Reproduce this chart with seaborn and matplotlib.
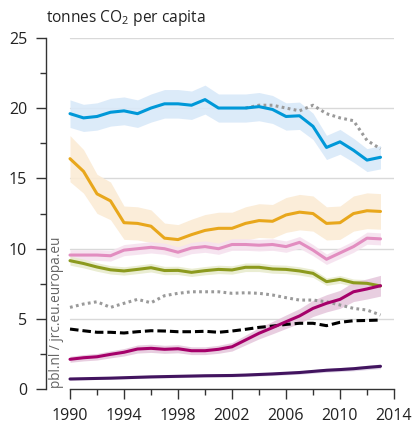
import numpy as np
import pandas as pd
import matplotlib
matplotlib.use('Agg')
import matplotlib.pyplot as plt
import seaborn as sns
from matplotlib.ticker import MultipleLocator

sns.set_style('white')
plt.rcParams['font.family'] = ['Open Sans', 'DejaVu Sans']
plt.rcParams['mathtext.default'] = 'regular'

# data
years = list(range(1990, 2014))
usa = [19.6, 19.3, 19.4, 19.7, 19.8, 19.6, 20.0, 20.3, 20.3, 20.2, 20.6, 20.0,
       20.0, 20.0, 20.1, 19.9, 19.4, 19.45, 18.7, 17.2, 17.6, 17.0, 16.3, 16.5]
russia = [16.4, 15.5, 13.9, 13.4, 11.85, 11.8, 11.6, 10.75, 10.65, 11.0, 11.3, 11.45,
          11.45, 11.8, 12.0, 11.95, 12.4, 12.6, 12.5, 11.8, 11.85, 12.5, 12.7, 12.65]
japan = [9.55, 9.55, 9.55, 9.5, 9.9, 10.0, 10.1, 10.0, 9.75, 10.05, 10.15, 10.0,
         10.3, 10.3, 10.25, 10.3, 10.15, 10.45, 9.9, 9.25, 9.7, 10.15, 10.75, 10.7]
eu28 = [9.15, 8.95, 8.7, 8.5, 8.42, 8.53, 8.65, 8.45, 8.46, 8.32, 8.44, 8.53,
        8.49, 8.68, 8.68, 8.56, 8.53, 8.42, 8.25, 7.66, 7.82, 7.58, 7.54, 7.35]
china = [2.14, 2.25, 2.32, 2.49, 2.64, 2.87, 2.92, 2.85, 2.89, 2.75, 2.75, 2.85,
         3.03, 3.51, 3.99, 4.39, 4.81, 5.22, 5.76, 6.12, 6.4, 6.94, 7.14, 7.37]
india = [0.74, 0.76, 0.78, 0.8, 0.83, 0.86, 0.89, 0.91, 0.93, 0.95, 0.97, 0.98,
         0.99, 1.02, 1.06, 1.1, 1.15, 1.2, 1.28, 1.36, 1.41, 1.47, 1.56, 1.64]
world = [4.29, 4.17, 4.06, 4.06, 4.01, 4.1, 4.17, 4.15, 4.1, 4.1, 4.13, 4.06,
         4.15, 4.27, 4.41, 4.5, 4.62, 4.7, 4.7, 4.53, 4.77, 4.88, 4.9, 4.93]
other_low = [5.83, 6.07, 6.23, 5.83, 6.12, 6.4, 6.16, 6.66, 6.83, 6.94, 6.94, 6.94,
             6.83, 6.87, 6.83, 6.71, 6.52, 6.35, 6.35, 6.23, 6.0, 5.76, 5.64, 5.29]
years_high = list(range(2003, 2014))
other_high = [20.0, 20.2, 20.2, 20.0, 19.8, 20.2, 19.6, 19.3, 19.1, 17.7, 17.1]

# relative uncertainty of the bands
unc = {'usa': 0.05, 'russia': 0.10, 'japan': 0.04, 'eu28': 0.035,
       'china': 0.10, 'india': 0.10}

fig = plt.figure(figsize=(4.14, 4.28), dpi=100)
ax = fig.add_axes([46/414, 1 - 389.4/428, (394 - 46)/414, (389.4 - 37.7)/428])

# grid lines only over the data range
for g in [5, 10, 15, 20, 25]:
    ax.plot([1990, 2014], [g, g], color='#d9d9d9', lw=1.0, zorder=0)

series = [
    ('usa', usa, '#0098d8', '#d9e9f9'),
    ('russia', russia, '#e8a71c', '#fbebd5'),
    ('japan', japan, '#e28dc0', '#f6e2ef'),
    ('eu28', eu28, '#8c9a1e', '#e8ebcd'),
    ('china', china, '#a5006a', '#e6c9dd'),
    ('india', india, '#42145f', '#dcd0e4'),
]

yr = np.array(years)
for name, vals, col, fill in series:
    v = np.array(vals)
    ax.fill_between(yr, v * (1 - unc[name]), v * (1 + unc[name]),
                    color=fill, lw=0, alpha=0.9, zorder=1)

lw = 2.2
sns.lineplot(x=years, y=other_low, color='#9a9a9a', lw=lw,
             linestyle=(0, (0.9, 1.1)), ax=ax, zorder=3)
sns.lineplot(x=years_high, y=other_high, color='#9a9a9a', lw=lw,
             linestyle=(0, (0.9, 1.1)), ax=ax, zorder=3)
sns.lineplot(x=years, y=world, color='black', lw=lw,
             linestyle=(0, (2.8, 1.3)), ax=ax, zorder=4)
for name, vals, col, fill in series:
    sns.lineplot(x=years, y=vals, color=col, lw=lw, ax=ax, zorder=5)

ax.set_xlim(1990 - 24/13.5, 2014)
ax.set_ylim(0, 25)
ax.set_xlabel('')
ax.set_ylabel('')

ax.xaxis.set_major_locator(MultipleLocator(4))
ax.xaxis.set_minor_locator(MultipleLocator(2))
ax.yaxis.set_major_locator(MultipleLocator(5))
ax.yaxis.set_minor_locator(MultipleLocator(2.5))
ax.set_xticks([1990, 1994, 1998, 2002, 2006, 2010, 2014])

for s in ['top', 'right']:
    ax.spines[s].set_visible(False)
for s in ['left', 'bottom']:
    ax.spines[s].set_color('#333333')
    ax.spines[s].set_linewidth(1.0)
ax.spines['bottom'].set_bounds(1990, 2014)
ax.spines['left'].set_bounds(0, 25)

ax.tick_params(axis='both', which='major', length=7.5, width=1.0, color='#333333',
               labelsize=11.5, labelcolor='#222222', pad=6, direction='out')
ax.tick_params(axis='both', which='minor', length=4, width=1.0, color='#333333',
               direction='out')
ax.tick_params(axis='x', which='both', bottom=True)
ax.tick_params(axis='y', which='both', left=True)

fig.text(46/414, 1 - 22/428, 'tonnes CO$_2$ per capita', fontsize=11.2,
         color='#222222', va='baseline', ha='left')
fig.text(57/414, 1 - 388/428, 'pbl.nl / jrc.eu.europa.eu', fontsize=9.8,
         color='#666666', rotation=90, ha='center', va='bottom')

fig.savefig('out.png', dpi=100)
